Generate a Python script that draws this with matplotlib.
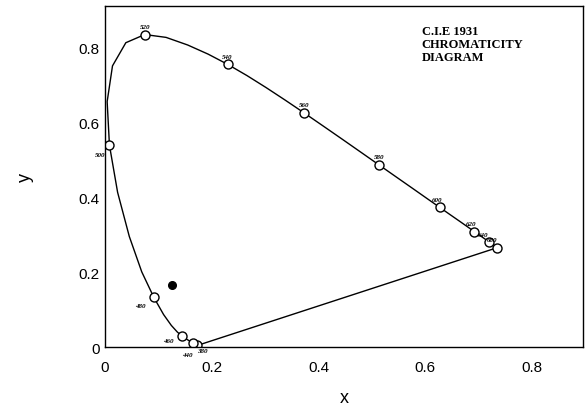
#! /usr/bin/env python3
import numpy as np
import matplotlib
matplotlib.use("Agg")
import matplotlib.pyplot as plt

# CIE 1931 spectral locus, 380-700 nm
wl = [380, 385, 390, 395, 400, 405, 410, 415, 420, 425, 430, 435, 440, 445,
      450, 455, 460, 465, 470, 475, 480, 485, 490, 495, 500, 505, 510, 515,
      520, 525, 530, 535, 540, 545, 550, 555, 560, 565, 570, 575, 580, 585,
      590, 595, 600, 605, 610, 615, 620, 625, 630, 635, 640, 645, 650, 655,
      660, 665, 670, 675, 680, 690, 700]
cx = [0.1741, 0.1740, 0.1738, 0.1736, 0.1733, 0.1730, 0.1726, 0.1721, 0.1714,
      0.1703, 0.1689, 0.1669, 0.1644, 0.1611, 0.1566, 0.1510, 0.1440, 0.1355,
      0.1241, 0.1096, 0.0913, 0.0687, 0.0454, 0.0235, 0.0082, 0.0039, 0.0139,
      0.0389, 0.0743, 0.1142, 0.1547, 0.1929, 0.2296, 0.2658, 0.3016, 0.3373,
      0.3731, 0.4087, 0.4441, 0.4788, 0.5125, 0.5448, 0.5752, 0.6029, 0.6270,
      0.6482, 0.6658, 0.6801, 0.6915, 0.7006, 0.7079, 0.7140, 0.7190, 0.7230,
      0.7260, 0.7283, 0.7300, 0.7311, 0.7320, 0.7327, 0.7334, 0.7344, 0.7347]
cy = [0.0050, 0.0050, 0.0049, 0.0049, 0.0048, 0.0048, 0.0048, 0.0048, 0.0051,
      0.0058, 0.0069, 0.0086, 0.0109, 0.0138, 0.0177, 0.0227, 0.0297, 0.0399,
      0.0578, 0.0868, 0.1327, 0.2007, 0.2950, 0.4127, 0.5384, 0.6548, 0.7502,
      0.8120, 0.8338, 0.8262, 0.8059, 0.7816, 0.7543, 0.7243, 0.6923, 0.6589,
      0.6245, 0.5896, 0.5547, 0.5202, 0.4866, 0.4544, 0.4242, 0.3965, 0.3725,
      0.3514, 0.3340, 0.3197, 0.3083, 0.2993, 0.2920, 0.2859, 0.2809, 0.2770,
      0.2740, 0.2717, 0.2700, 0.2689, 0.2680, 0.2673, 0.2666, 0.2656, 0.2653]

# marked wavelengths and their little labels
marked = [420, 440, 460, 480, 500, 520, 540, 560, 580, 600, 620, 640, 700]
mark_labels = {420: "380", 440: "440", 460: "460", 480: "480", 500: "500",
               520: "520", 540: "540", 560: "560", 580: "580", 600: "600",
               620: "620", 640: "640", 700: "680"}
label_offsets = {420: (4, -4), 440: (-4, -8), 460: (-10, -3), 480: (-10, -6),
                 500: (-7, -7), 520: (0, 6), 540: (0, 6), 560: (0, 6),
                 580: (0, 6), 600: (-2, 6), 620: (-2, 6), 640: (-4, 5),
                 700: (-4, 6)}

# the sample point
px, py = [0.125], [0.166]

xticks = [0, 0.2, 0.4, 0.6, 0.8]
xticklabels = ["0", "0.2", "0.4", "0.6", "0.8"]
yticks = [0, 0.2, 0.4, 0.6, 0.8]
yticklabels = ["0", "0.2", "0.4", "0.6", "0.8"]

plt.rcParams['font.family'] = ['Liberation Sans', 'DejaVu Sans']

fig = plt.figure(figsize=(5.87, 4.10), dpi=100)
ax = fig.add_axes([0.179, 0.151, 0.814, 0.832])

# locus and the line of purples
ax.plot(cx, cy, color='black', lw=1.0, solid_joinstyle='round')
ax.plot([cx[-1], cx[0]], [cy[-1], cy[0]], color='black', lw=1.0)

mx = [cx[wl.index(w)] for w in marked]
my = [cy[wl.index(w)] for w in marked]
ax.plot(mx, my, 'o', ms=6.5, mfc='white', mec='black', mew=1.0)
for w, xx, yy in zip(marked, mx, my):
    dx, dy = label_offsets[w]
    ax.annotate(mark_labels[w], (xx, yy), xytext=(dx, dy),
                textcoords='offset points', fontsize=5, ha='center',
                va='center', family='Liberation Serif', style='italic',
                weight='bold')

ax.plot(px, py, 'o', ms=5.5, color='black')

ax.text(0.593, 0.858, "C.I.E 1931\nCHROMATICITY\nDIAGRAM",
        family='Liberation Serif', fontsize=9, weight='bold', va='top',
        ha='left', linespacing=1.1)

ax.set_xlim(0, 0.895)
ax.set_ylim(0, 0.91)
ax.set_xticks(xticks)
ax.set_xticklabels(xticklabels, fontsize=11)
ax.set_yticks(yticks)
ax.set_yticklabels(yticklabels, fontsize=11)
ax.tick_params(length=0)
ax.tick_params(axis='x', pad=9)
ax.tick_params(axis='y', pad=4)
ax.set_xlabel("x", fontsize=13, labelpad=11)
ax.set_ylabel("y", fontsize=13, labelpad=32)
for s in ax.spines.values():
    s.set_linewidth(1.0)

fig.savefig("out.png", dpi=100)
